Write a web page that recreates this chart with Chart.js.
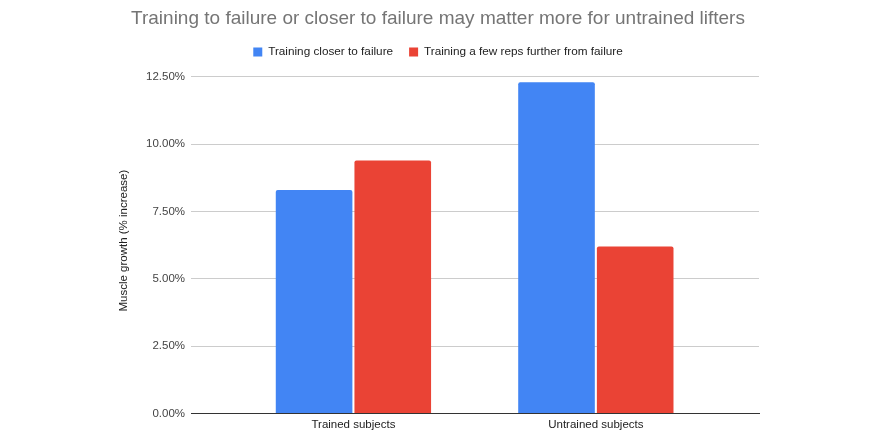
<!DOCTYPE html>
<html>
<head>
<meta charset="utf-8">
<script src="https://cdn.jsdelivr.net/npm/chart.js@4.4.1/dist/chart.umd.min.js"></script>
<style>
  html, body { margin: 0; padding: 0; background: #fff; }
</style>
</head>
<body>
<canvas id="chart" width="877" height="445"></canvas>
<script>
const categories = ['Trained subjects', 'Untrained subjects'];
const seriesNames = ['Training closer to failure', 'Training a few reps further from failure'];
const closerToFailure = [8.3, 12.3];     // % increase
const furtherFromFailure = [9.4, 6.2];
const yTickValues = [0, 2.5, 5, 7.5, 10, 12.5];

const colors = {
  closer: '#4285F4',   // google blue
  further: '#EA4335'   // google red
};

const labelFont = { family: 'Arial, "Liberation Sans"', size: 11.5 };
const legendFont = { family: 'Arial, "Liberation Sans"', size: 11.75 };

new Chart(document.getElementById('chart'), {
  type: 'bar',
  data: {
    labels: categories,
    datasets: [
      { label: seriesNames[0], data: closerToFailure, backgroundColor: colors.closer },
      { label: seriesNames[1], data: furtherFromFailure, backgroundColor: colors.further }
    ]
  },
  options: {
    responsive: false,
    animation: false,
    layout: { padding: { left: 117, right: 118, top: 0, bottom: 0 } },
    datasets: {
      bar: {
        categoryPercentage: 0.649,
        barPercentage: 0.974,
        borderRadius: { topLeft: 2, topRight: 2, bottomLeft: 0, bottomRight: 0 },
        borderSkipped: 'start'
      }
    },
    plugins: {
      title: {
        display: true,
        text: 'Training to failure or closer to failure may matter more for untrained lifters',
        color: '#757575',
        font: { family: 'Arial, "Liberation Sans"', size: 19, weight: 'normal', lineHeight: 1 },
        padding: { top: 9, bottom: 2 }
      },
      legend: {
        position: 'top',
        labels: {
          color: '#222',
          font: legendFont,
          boxWidth: 9,
          boxHeight: 9,
          padding: 16
        }
      },
      tooltip: { enabled: false }
    },
    scales: {
      x: {
        grid: { display: false, drawTicks: false },
        border: { display: true, color: '#333', width: 1 },
        ticks: { color: '#222', font: labelFont, padding: 4.5 },
        // spread the two groups like the original (wide empty margins at both ends)
        afterBuildTicks: (scale) => {
          scale._startValue = -0.67;
          scale._valueRange = 2.343;
        },
        afterFit: (scale) => { scale.height = 31.5; }
      },
      y: {
        min: yTickValues[0],
        max: 12.84,   // a little headroom above the top gridline
        afterBuildTicks: (scale) => {
          scale.ticks = yTickValues.map((value) => ({ value }));
        },
        ticks: {
          color: '#444',
          font: labelFont,
          padding: 6,
          callback: (v) => v.toFixed(2) + '%'
        },
        grid: {
          drawTicks: false,
          color: (ctx) => ctx.tick && ctx.tick.value === 0 ? '#333' : '#cccccc'
        },
        border: { display: false },
        title: {
          display: true,
          text: 'Muscle growth (% increase)',
          color: '#222',
          font: labelFont,
          padding: { top: 0, bottom: 0 }
        },
        afterFit: (scale) => { scale.width = 74; }
      }
    }
  }
});
</script>
</body>
</html>
